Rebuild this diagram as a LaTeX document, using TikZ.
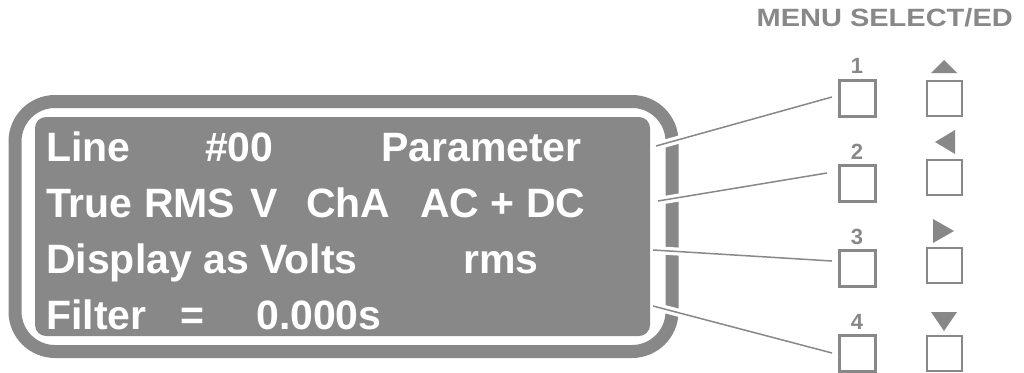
\documentclass[tikz,border=0pt]{standalone}
\usepackage{fontspec}
\setmainfont{Liberation Sans}
\definecolor{lcdgray}{RGB}{136,136,136}
\tikzset{
  disp/.style={anchor=base west, inner sep=0pt, text=white, font=\bfseries\fontsize{41}{41}\selectfont},
  keybox/.style={draw=lcdgray, line width=2pt, fill=white, minimum width=35pt, minimum height=35pt, inner sep=0pt},
  keynum/.style={text=lcdgray, font=\bfseries\fontsize{22}{22}\selectfont, inner sep=0pt},
  conn/.style={draw=lcdgray, line width=1.5pt, preaction={draw=white, line width=8pt}},
}
\begin{document}
\begin{tikzpicture}[x=1pt,y=-1pt]
\useasboundingbox (0,0) rectangle (1024,372);
% frame
\draw[lcdgray, line width=13pt, rounded corners=40pt] (15,101.5) rectangle (672,351.5);
\fill[lcdgray, rounded corners=11pt] (35,117) rectangle (650,336);
% display text
\node[disp] (t1a) at (46,161) {Line};
\node[disp] (t1b) at (205,161) {\#00};
\node[disp] (t1c) at (381,161) {Parameter};
\node[disp] (t2a) at (46,217) {True RMS};
\node[disp] (t2b) at (250,217) {V};
\node[disp] (t2c) at (306,217) {ChA};
\node[disp] (t2d) at (420,217) {AC + DC};
\node[disp] (t3a) at (46,273) {Display as Volts};
\node[disp] (t3b) at (463,273) {rms};
\node[disp] (t4a) at (46,329) {Filter};
\node[disp] (t4b) at (180,329) {=};
\node[disp] (t4c) at (256,329) {0.000s};
% title
\node[text=lcdgray, anchor=base east, inner sep=0pt, font=\bfseries\fontsize{25}{25}\selectfont] (title) at (1013,27) {\scalebox{1.16}[1]{MENU SELECT/ED}};
% connector start points
\coordinate (s1) at (656,146);
\coordinate (s2) at (658,201);
\coordinate (s3) at (653,250);
\coordinate (s4) at (653,306);
% keys
\node[keybox] (b1) at (857.5,98.5) {};
\node[keybox] (b2) at (857.5,183.5) {};
\node[keybox] (b3) at (857.5,268.5) {};
\node[keybox] (b4) at (857.5,353.5) {};
\node[keybox] (c1) at (944,98.5) {};
\node[keybox] (c2) at (944,177.5) {};
\node[keybox] (c3) at (944,265.5) {};
\node[keybox] (c4) at (944,353.5) {};
% connectors
\draw[conn] (s1) -- ([xshift=-7pt,yshift=1.5pt]b1.west);
\draw[conn] (s2) -- ([xshift=-12pt,yshift=10.5pt]b2.west);
\draw[conn] (s3) -- ([xshift=-7pt,yshift=7.5pt]b3.west);
\draw[conn] (s4) -- ([xshift=-7pt,yshift=0.5pt]b4.west);
% redraw keys over halos
\foreach \k in {b1,b2,b3,b4} {\draw[lcdgray, line width=2pt] (\k.north west) rectangle (\k.south east);}
% numbers
\node[keynum] (n1) at (857,66) {1};
\node[keynum] (n2) at (857,152) {2};
\node[keynum] (n3) at (857,237) {3};
\node[keynum] (n4) at (857,322) {4};
% arrows
\fill[lcdgray] (931,73) -- (957,73) -- (944,60) -- cycle;
\fill[lcdgray] (955,130) -- (955,154) -- (935,142) -- cycle;
\fill[lcdgray] (933,219) -- (933,243) -- (954,231) -- cycle;
\fill[lcdgray] (931,312) -- (957,312) -- (944,331) -- cycle;
\end{tikzpicture}
\end{document}
